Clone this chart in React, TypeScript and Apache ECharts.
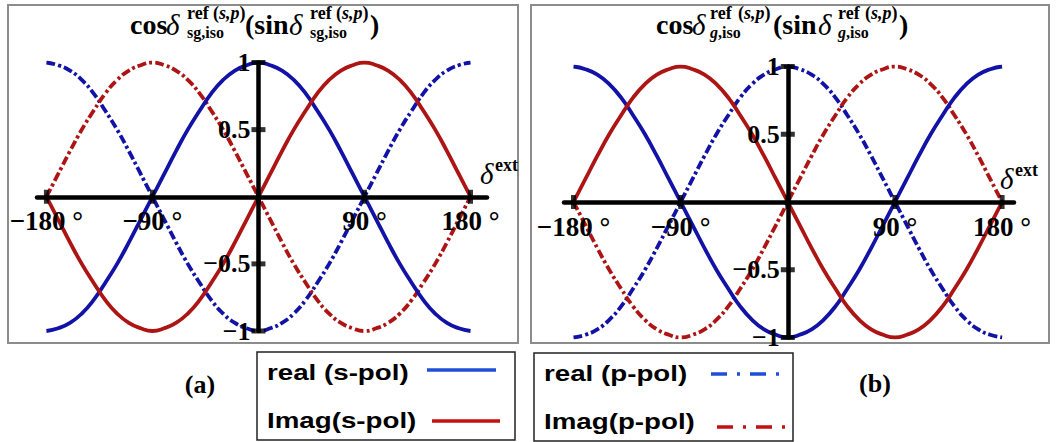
import React, { useEffect, useRef } from "react";
import * as echarts from "echarts";

// Phase angle samples (degrees) and the curve values read at each sample
const angles = [
  -180, -170, -160, -150, -140, -130, -120, -110, -100, -90, -80, -70, -60, -50, -40, -30, -20, -10, 0,
  10, 20, 30, 40, 50, 60, 70, 80, 90, 100, 110, 120, 130, 140, 150, 160, 170, 180,
];
const cosCurve = [
  -1, -0.98, -0.94, -0.87, -0.77, -0.64, -0.5, -0.34, -0.17, 0, 0.17, 0.34, 0.5, 0.64, 0.77, 0.87, 0.94, 0.98, 1,
  0.98, 0.94, 0.87, 0.77, 0.64, 0.5, 0.34, 0.17, 0, -0.17, -0.34, -0.5, -0.64, -0.77, -0.87, -0.94, -0.98, -1,
];
const negCosCurve = [
  1, 0.98, 0.94, 0.87, 0.77, 0.64, 0.5, 0.34, 0.17, 0, -0.17, -0.34, -0.5, -0.64, -0.77, -0.87, -0.94, -0.98, -1,
  -0.98, -0.94, -0.87, -0.77, -0.64, -0.5, -0.34, -0.17, 0, 0.17, 0.34, 0.5, 0.64, 0.77, 0.87, 0.94, 0.98, 1,
];
const sinCurve = [
  0, -0.17, -0.34, -0.5, -0.64, -0.77, -0.87, -0.94, -0.98, -1, -0.98, -0.94, -0.87, -0.77, -0.64, -0.5, -0.34, -0.17, 0,
  0.17, 0.34, 0.5, 0.64, 0.77, 0.87, 0.94, 0.98, 1, 0.98, 0.94, 0.87, 0.77, 0.64, 0.5, 0.34, 0.17, 0,
];
const negSinCurve = [
  0, 0.17, 0.34, 0.5, 0.64, 0.77, 0.87, 0.94, 0.98, 1, 0.98, 0.94, 0.87, 0.77, 0.64, 0.5, 0.34, 0.17, 0,
  -0.17, -0.34, -0.5, -0.64, -0.77, -0.87, -0.94, -0.98, -1, -0.98, -0.94, -0.87, -0.77, -0.64, -0.5, -0.34, -0.17, 0,
];

// Tick positions and labels
const xTickValues = [-180, -90, 0, 90, 180];
const yTickValues = [-1, -0.5, 0.5, 1];
const xLabelValues = [-180, -90, 90, 180];
const yLabelValues = [-1, -0.5, 0.5, 1];

const seriesNames = ["real (s-pol)", "Imag(s-pol)", "real (p-pol)", "Imag(p-pol)"];
const panelLetters = ["(a)", "(b)"];

// Curve assignment per panel: [s real, s imag, p real, p imag]
const panelCurves = [
  [cosCurve, sinCurve, negCosCurve, negSinCurve],
  [negCosCurve, negSinCurve, cosCurve, sinCurve],
];

const SERIF = "'Liberation Serif', 'Times New Roman', serif";
const SANS = "'Liberation Sans', Arial, sans-serif";

const BLUE = "#1212a6";
const RED = "#ad1414";
const DASH_DOT = [9, 3, 3, 3];

// Layout of the two panels
const panels = [
  { left: 37, top: 62.5, width: 450, height: 268.5, xMin: -188, xMax: 194, frame: [8, 5, 510, 338] },
  { left: 564, top: 66.5, width: 450, height: 271, xMin: -188, xMax: 190, frame: [531, 5, 518, 338] },
];

const fmtX = (v: number) => (v < 0 ? "\u2212" + Math.abs(v) + " \u00b0" : v + " \u00b0");
const fmtY = (v: number) => (v < 0 ? "\u2212" + Math.abs(v) : String(v));

function txt(text: string, x: number, y: number, font: string, extra: any = {}) {
  return {
    type: "text",
    x,
    y,
    silent: true,
    z: 100,
    style: {
      text,
      font,
      fill: "#000",
      align: "left",
      verticalAlign: "middle",
      textAlign: "left",
      textVerticalAlign: "middle",
      ...extra,
    },
  };
}

const supRich = {
  u: { fontFamily: SERIF, fontWeight: "bold", fontSize: 18, fill: "#000", color: "#000" },
  i: { fontFamily: SERIF, fontWeight: "bold", fontStyle: "italic", fontSize: 18, fill: "#000", color: "#000" },
};
const subRich = {
  u: { fontFamily: SERIF, fontWeight: "bold", fontSize: 16, fill: "#000", color: "#000" },
  i: { fontFamily: SERIF, fontWeight: "bold", fontStyle: "italic", fontSize: 16, fill: "#000", color: "#000" },
};

const MAIN_FONT = `bold 28px ${SERIF}`;
const DELTA_FONT = `italic 29px ${SERIF}`;
const SUP_FONT = `bold 18px ${SERIF}`;
const SUB_FONT = `bold 16px ${SERIF}`;
const MAIN_Y = 24.5;
const SUP_Y = 13;
const SUB_Y = 32;

// cos δ^{ref (s,p)}_{sub} ( sin δ^{ref (s,p)}_{sub} )
function titleElements(xs: number[], subText: string) {
  const [cosX, d1X, s1X, sp1X, sinX, d2X, s2X, sp2X, closeX] = xs;
  return [
    txt("cos", cosX, MAIN_Y, MAIN_FONT),
    txt("\u03b4", d1X, MAIN_Y, DELTA_FONT),
    txt("ref", s1X, SUP_Y, SUP_FONT),
    txt("{u|(}{i|s,p}{u|)}", sp1X, SUP_Y, SUP_FONT, { rich: supRich }),
    txt(subText, s1X, SUB_Y, SUB_FONT, { rich: subRich }),
    txt("(sin", sinX, MAIN_Y, MAIN_FONT),
    txt("\u03b4", d2X, MAIN_Y, DELTA_FONT),
    txt("ref", s2X, SUP_Y, SUP_FONT),
    txt("{u|(}{i|s,p}{u|)}", sp2X, SUP_Y, SUP_FONT, { rich: supRich }),
    txt(subText, s2X, SUB_Y, SUB_FONT, { rich: subRich }),
    txt(")", closeX, MAIN_Y, MAIN_FONT),
  ];
}

function buildOption() {
  const grids: any[] = [];
  const xAxes: any[] = [];
  const yAxes: any[] = [];
  const series: any[] = [];

  panels.forEach((p, i) => {
    grids.push({ left: p.left, top: p.top, width: p.width, height: p.height });
    // axes cross at the origin: shift them inward from the grid edges
    const xZeroOffset = ((0 - p.xMin) / (p.xMax - p.xMin)) * p.width;
    const yZeroOffset = p.height / 2;
    xAxes.push({
      gridIndex: i,
      type: "value",
      position: "bottom",
      offset: -yZeroOffset,
      min: p.xMin,
      max: p.xMax,
      z: 5,
      axisLine: { onZero: false, lineStyle: { color: "#000", width: 4.5 } },
      axisTick: { show: false },
      splitLine: { show: false },
      axisLabel: {
        customValues: xLabelValues,
        formatter: fmtX,
        fontFamily: SERIF,
        fontSize: 27,
        fontWeight: "bold",
        color: "#000",
        margin: 11,
      },
    });
    yAxes.push({
      gridIndex: i,
      type: "value",
      position: "left",
      offset: -xZeroOffset,
      min: -1,
      max: 1,
      z: 5,
      axisLine: { onZero: false, lineStyle: { color: "#000", width: 4.5 } },
      axisTick: { show: false },
      splitLine: { show: false },
      axisLabel: {
        customValues: yLabelValues,
        formatter: fmtY,
        fontFamily: SERIF,
        fontSize: 26,
        fontWeight: "bold",
        color: "#000",
        margin: 8,
      },
    });

    const curves = panelCurves[i];
    const styles = [
      { color: BLUE, type: "solid" },
      { color: RED, type: "solid" },
      { color: BLUE, type: DASH_DOT },
      { color: RED, type: DASH_DOT },
    ];
    // dashed curves underneath, solid curves on top
    [2, 3, 0, 1].forEach((k) => {
      series.push({
        name: seriesNames[k],
        type: "line",
        xAxisIndex: i,
        yAxisIndex: i,
        data: angles.map((a, j) => [a, curves[k][j]]),
        smooth: 0.5,
        showSymbol: false,
        silent: true,
        z: 2,
        lineStyle: { color: styles[k].color, width: 3.8, type: styles[k].type, cap: "butt" },
      });
    });

    series.push({
      type: "scatter",
      xAxisIndex: i,
      yAxisIndex: i,
      data: xTickValues.map((v) => [v, 0]),
      symbol: "rect",
      symbolSize: [5, 14],
      itemStyle: { color: "#000" },
      silent: true,
      z: 10,
    });
    series.push({
      type: "scatter",
      xAxisIndex: i,
      yAxisIndex: i,
      data: yTickValues.map((v) => [0, v]),
      symbol: "rect",
      symbolSize: [14, 5],
      itemStyle: { color: "#000" },
      silent: true,
      z: 10,
    });
  });

  const graphics: any[] = [];

  // panel frames
  panels.forEach((p) => {
    const [x, y, w, h] = p.frame;
    graphics.push({
      type: "rect",
      shape: { x, y, width: w, height: h },
      style: { fill: "none", stroke: "#8c8c8c", lineWidth: 2 },
      silent: true,
      z: 0,
    });
  });

  // titles
  graphics.push(
    ...titleElements([130, 166, 187, 213, 245, 289, 310, 336, 370], "{u|sg,iso}")
  );
  graphics.push(
    ...titleElements([656, 692, 710, 738, 773, 818, 838, 865, 899], "{i|g}{u|,iso}")
  );

  // horizontal axis names
  const axisNames = [
    { dx: 480, axisY: 197 },
    { dx: 1000, axisY: 202 },
  ];
  axisNames.forEach((a) => {
    graphics.push(txt("\u03b4", a.dx, a.axisY - 23, DELTA_FONT));
    graphics.push(txt("ext", a.dx + 15, a.axisY - 32, SUP_FONT));
  });

  // panel letters
  graphics.push(txt(panelLetters[0], 200, 384, `bold 26px ${SERIF}`, { align: "center", textAlign: "center" }));
  graphics.push(txt(panelLetters[1], 875, 383, `bold 26px ${SERIF}`, { align: "center", textAlign: "center" }));

  // legend boxes
  const legendBoxes = [
    {
      box: [257, 352, 258, 88],
      items: [
        { name: seriesNames[0], tx: 267, ty: 372, line: [427, 370, 496, 370], color: "#1f4fd6", dash: null },
        { name: seriesNames[1], tx: 267, ty: 420, line: [432, 421, 500, 421], color: "#c41010", dash: null },
      ],
    },
    {
      box: [534, 353, 259, 88],
      items: [
        { name: seriesNames[2], tx: 544, ty: 373, line: [711, 374, 784, 374], color: "#1f4fd6", dash: [16, 10, 3, 10] },
        { name: seriesNames[3], tx: 544, ty: 421, line: [717, 427, 790, 427], color: "#c41010", dash: [16, 10, 3, 10] },
      ],
    },
  ];
  legendBoxes.forEach((lb) => {
    const [x, y, w, h] = lb.box;
    graphics.push({
      type: "rect",
      shape: { x, y, width: w, height: h },
      style: { fill: "#fff", stroke: "#222", lineWidth: 1.5 },
      silent: true,
      z: 90,
    });
    lb.items.forEach((it) => {
      graphics.push({
        type: "text",
        x: it.tx,
        y: it.ty,
        scaleX: 1.26,
        silent: true,
        z: 100,
        style: {
          text: it.name,
          font: `bold 22px ${SANS}`,
          fill: "#000",
          align: "left",
          verticalAlign: "middle",
          textAlign: "left",
          textVerticalAlign: "middle",
        },
      });
      const [x1, y1, x2, y2] = it.line;
      graphics.push({
        type: "line",
        shape: { x1, y1, x2, y2 },
        style: {
          stroke: it.color,
          lineWidth: 3.5,
          lineDash: it.dash || undefined,
          lineCap: "butt",
        },
        silent: true,
        z: 100,
      });
    });
  });

  return {
    animation: false,
    backgroundColor: "#fff",
    grid: grids,
    xAxis: xAxes,
    yAxis: yAxes,
    series,
    graphic: { elements: graphics },
  };
}

export default function App() {
  const ref = useRef<HTMLDivElement>(null);
  useEffect(() => {
    if (!ref.current) return;
    const chart = echarts.init(ref.current, null, { renderer: "svg", width: 1057, height: 442 });
    chart.setOption(buildOption() as any);
    return () => chart.dispose();
  }, []);
  return (
    <div
      ref={ref}
      style={{ position: "fixed", left: 0, top: 0, width: 1057, height: 442, background: "#fff" }}
    />
  );
}
